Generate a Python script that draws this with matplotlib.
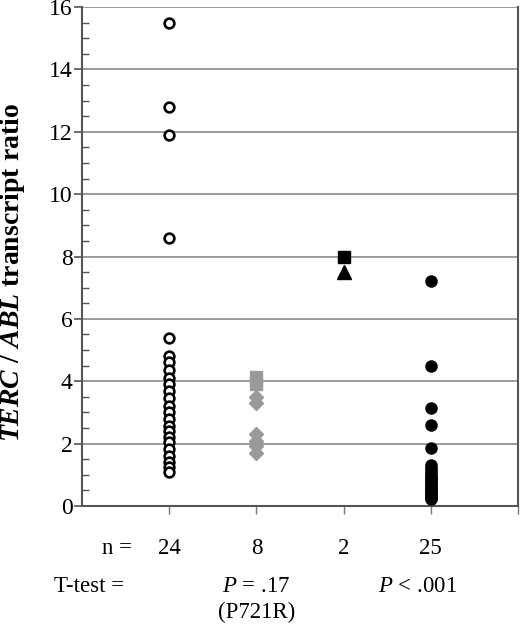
import matplotlib
matplotlib.use("Agg")
import matplotlib.pyplot as plt
from matplotlib.ticker import MultipleLocator

plt.rcParams['font.family'] = ['Liberation Serif', 'DejaVu Serif']
plt.rcParams['mathtext.fontset'] = 'custom'
plt.rcParams['mathtext.it'] = 'Liberation Serif:italic:bold'
plt.rcParams['mathtext.rm'] = 'Liberation Serif:bold'
plt.rcParams['mathtext.sf'] = 'Liberation Serif:italic'

# ---- data ----
group_pos = [1, 2, 3, 4]
n_labels = ["24", "8", "2", "25"]

g1_open_circles = [15.5, 12.8, 11.9, 8.6, 5.4, 4.8, 4.62, 4.35, 4.1, 3.9, 3.68,
                   3.45, 3.22, 3.0, 2.8, 2.58, 2.4, 2.22, 2.05, 1.83, 1.6,
                   1.42, 1.25, 1.1]
g2_squares = [4.15, 3.9]
g2_diamonds = [3.5, 3.3, 2.3, 2.1, 1.92, 1.7]
g3_square = [8.0]
g3_triangle = [7.5]
g4_filled_circles = [7.2, 4.5, 3.15, 2.6, 1.85, 1.3, 1.22, 1.15, 1.07, 1.0,
                     0.94, 0.87, 0.82, 0.75, 0.7, 0.64, 0.58, 0.53, 0.47,
                     0.42, 0.38, 0.34, 0.3, 0.27, 0.24]

ttest_pos = [2, 3.85]
ttest_labels = [r"$\mathsf{P}$ = .17", r"$\mathsf{P}$ < .001"]

# ---- figure ----
fig = plt.figure(figsize=(5.2, 6.26), dpi=100)
ax = fig.add_axes([0.158, 0.1917, 0.838, 0.797])

gray = "#999999"
ax.plot([group_pos[0]] * len(g1_open_circles), g1_open_circles, 'o', ls='none',
        mfc='white', mec='black', mew=1.9, ms=7, zorder=3)
ax.plot([group_pos[1]] * len(g2_diamonds), g2_diamonds, 'D', ls='none',
        color=gray, ms=7, zorder=3)
ax.plot([group_pos[1]] * len(g2_squares), g2_squares, 's', ls='none',
        color=gray, ms=8, zorder=3)
ax.plot([group_pos[2]] * len(g3_square), g3_square, 's', ls='none',
        color='black', ms=8, zorder=3)
ax.plot([group_pos[2]] * len(g3_triangle), g3_triangle, '^', ls='none',
        color='black', ms=10, zorder=3)
ax.plot([group_pos[3]] * len(g4_filled_circles), g4_filled_circles, 'o',
        ls='none', color='black', ms=8, zorder=3)

ax.set_xlim(0, 5)
ax.set_ylim(0, 16)
ax.yaxis.set_major_locator(MultipleLocator(2))
ax.yaxis.set_minor_locator(MultipleLocator(0.5))
ax.set_xticks([1, 2, 3, 4, 5])
ax.set_xticklabels([])
ax.grid(axis='y', which='major', color='#808080', lw=1.1)
ax.set_axisbelow(True)

for s in ['left', 'bottom', 'right']:
    ax.spines[s].set_color('#555555')
    ax.spines[s].set_linewidth(1.5)
ax.spines['top'].set_visible(False)

ax.tick_params(axis='y', which='major', direction='out', length=6, width=1.2,
               color='#555555', labelsize=17, pad=1)
ax.tick_params(axis='y', which='minor', direction='in', length=5, width=1.0,
               color='#555555')
ax.tick_params(axis='x', which='major', direction='out', length=6, width=1.0,
               color='#777777')

fig.text(13 / 520, 1 - 273 / 626, r"$TERC\ /\ ABL$ transcript ratio",
         fontsize=20, fontweight='bold', rotation=90, ha='center', va='center')

# bottom annotations
fig.text(132 / 520, 1 - 549 / 626, "n =", fontsize=16.5, ha='right', va='center')
for p, lab in zip(group_pos, n_labels):
    xf = ax.transData.transform((p, 0))[0] / fig.bbox.width
    fig.text(xf, 1 - 549 / 626, lab, fontsize=16.5, ha='center', va='center')

fig.text(124 / 520, 1 - 587 / 626, "T-test =", fontsize=16.5, ha='right',
         va='center')
for p, lab in zip(ttest_pos, ttest_labels):
    xf = ax.transData.transform((p, 0))[0] / fig.bbox.width
    fig.text(xf, 1 - 587 / 626, lab, fontsize=16.5, ha='center', va='center')
xf = ax.transData.transform((2, 0))[0] / fig.bbox.width
fig.text(xf, 1 - 612 / 626, "(P721R)", fontsize=16.5, ha='center', va='center')

fig.savefig("out.png", dpi=100)
